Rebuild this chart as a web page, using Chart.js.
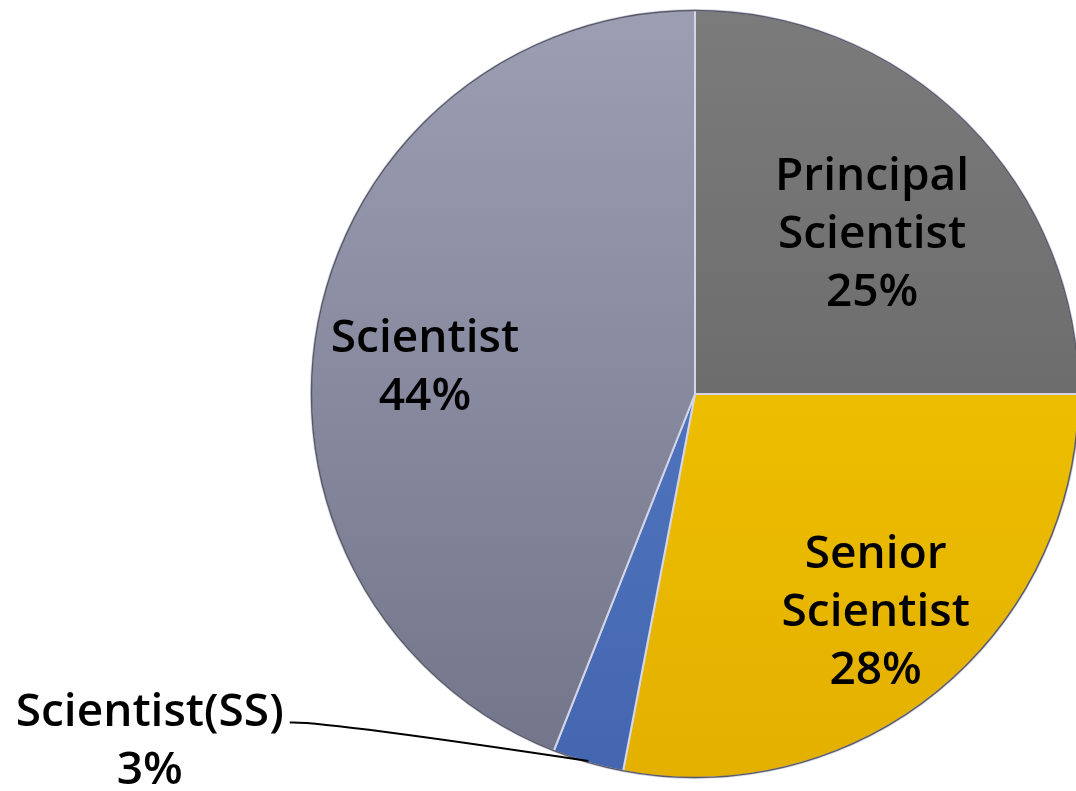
<!DOCTYPE html>
<html>
<head>
<meta charset="utf-8">
<script src="https://cdn.jsdelivr.net/npm/chart.js@4/dist/chart.umd.min.js"></script>
<style>
    html, body { margin: 0; padding: 0; background: #fff; overflow: hidden; }
    #wrap { width: 1090px; height: 791px; }
</style>
</head>
<body>
<div id="wrap"><canvas id="pieChart" width="1090" height="791"></canvas></div>
<script>
// data
const categories = ["Principal Scientist", "Senior Scientist", "Scientist(SS)", "Scientist"];
const shares = [25, 28, 3, 44];

// slice colours: [top, bottom] of a vertical gradient
const sliceColors = [
    ["#7b7b7b", "#5f5f5f"],
    ["#f7cb00", "#e3b000"],
    ["#5b80cc", "#4466b0"],
    ["#9c9eb3", "#727489"]
];

// where each label sits: fraction of radius from centre + small nudge
const labelPlace = [
    { f: 0.63, dx: 6, dy: 12 },
    { f: 0.73, dx: 2, dy: 3 },
    { outside: true, ox: -1.42, oy: 0.905, anchorF: 0.995 },
    { f: 0.70, dx: -6, dy: 24 }
];

const FONT = "600 46px 'Open Sans', sans-serif";
const LINE_H = 58;

// dark rim round the pie
const rimPlugin = {
    id: "rim",
    afterDatasetsDraw(chart) {
        const arc = chart.getDatasetMeta(0).data[0];
        if (!arc) return;
        const p = arc.getProps(["x", "y", "outerRadius"], true);
        const ctx = chart.ctx;
        ctx.save();
        ctx.beginPath();
        ctx.arc(p.x, p.y, p.outerRadius - 0.5, 0, Math.PI * 2);
        ctx.strokeStyle = "#5a5a66";
        ctx.lineWidth = 1.5;
        ctx.stroke();
        ctx.restore();
    }
};

const labelPlugin = {
    id: "sliceLabels",
    afterDatasetsDraw(chart) {
        const ctx = chart.ctx;
        const arcs = chart.getDatasetMeta(0).data;
        ctx.save();
        ctx.font = FONT;
        ctx.fillStyle = "#000";
        ctx.textAlign = "center";
        ctx.textBaseline = "middle";
        arcs.forEach((arc, i) => {
            const p = arc.getProps(["x", "y", "startAngle", "endAngle", "outerRadius"], true);
            const mid = (p.startAngle + p.endAngle) / 2;
            const place = labelPlace[i];
            const lines = place.outside
                ? [categories[i], shares[i] + "%"]
                : [...categories[i].split(" "), shares[i] + "%"];
            let cx, cy;
            if (place.outside) {
                cx = p.x + place.ox * p.outerRadius;
                cy = p.y + place.oy * p.outerRadius;
            } else {
                cx = p.x + Math.cos(mid) * p.outerRadius * place.f + place.dx;
                cy = p.y + Math.sin(mid) * p.outerRadius * place.f + place.dy;
            }
            const top = cy - (lines.length - 1) * LINE_H / 2;
            lines.forEach((t, k) => ctx.fillText(t, cx, top + k * LINE_H));

            if (place.outside) {
                // leader line from label to slice edge
                const w = ctx.measureText(lines[0]).width;
                const sx = cx + w / 2 + 6;
                const sy = top + 10;
                const ex = p.x + Math.cos(mid) * p.outerRadius * place.anchorF;
                const ey = p.y + Math.sin(mid) * p.outerRadius * place.anchorF;
                ctx.beginPath();
                ctx.strokeStyle = "#000";
                ctx.lineWidth = 2;
                ctx.moveTo(sx, sy);
                ctx.quadraticCurveTo(sx + 30, sy - 2, ex, ey);
                ctx.stroke();
            }
        });
        ctx.restore();
    }
};

function sliceFill(context) {
    const chart = context.chart;
    const area = chart.chartArea;
    const c = sliceColors[context.dataIndex];
    if (!area) return c[0];
    const g = chart.ctx.createLinearGradient(0, area.top, 0, area.bottom);
    g.addColorStop(0, c[0]);
    g.addColorStop(1, c[1]);
    return g;
}

const ctx = document.getElementById("pieChart").getContext("2d");
const chart = new Chart(ctx, {
    type: "pie",
    data: {
        labels: categories,
        datasets: [{
            data: shares,
            backgroundColor: sliceFill,
            borderColor: "#d4d6e6",
            borderWidth: 2
        }]
    },
    options: {
        responsive: false,
        animation: false,
        layout: { padding: { left: 310, right: 10, top: 9, bottom: 12 } },
        plugins: {
            legend: { display: false },
            tooltip: { enabled: false }
        }
    },
    plugins: [rimPlugin, labelPlugin]
});
</script>
</body>
</html>
